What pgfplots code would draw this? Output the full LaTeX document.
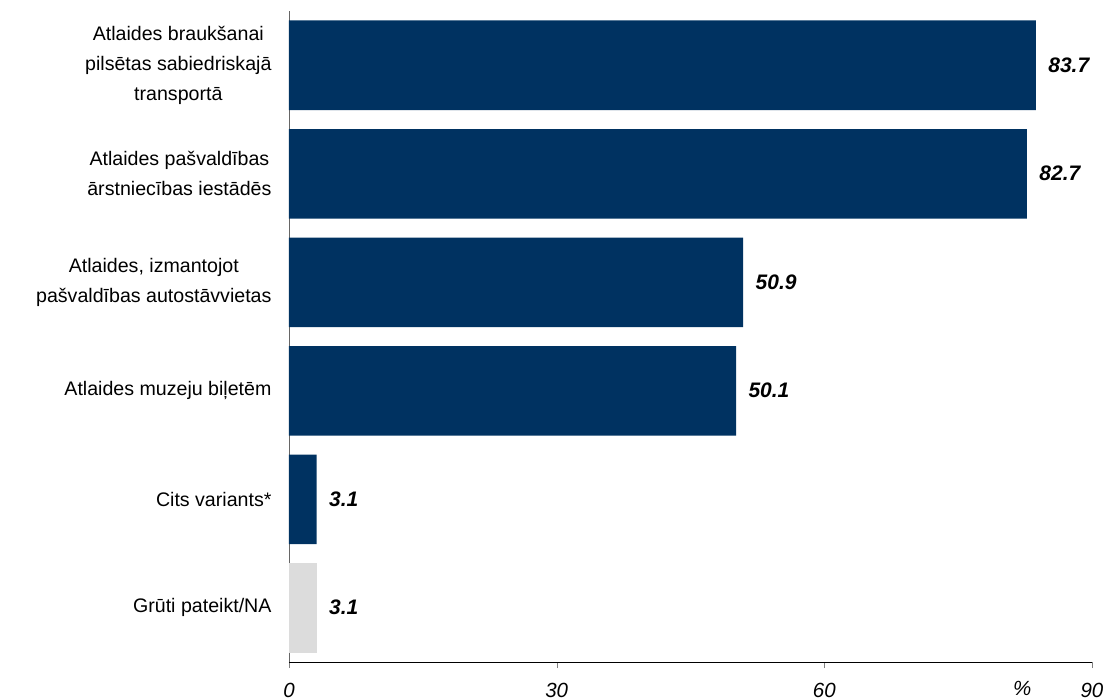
\documentclass[border=0pt]{standalone}
\usepackage{pgfplots}
\pgfplotsset{compat=1.18}
\usepackage{fontspec}
\setmainfont{Liberation Sans}
\definecolor{barblue}{HTML}{003261}
\definecolor{bargrey}{HTML}{DCDCDC}
\begin{document}
\begin{tikzpicture}
\begin{axis}[
    name=ax, anchor=south west,
    scale only axis, width=803pt, height=651pt,
    xbar, bar width=89.5pt,
    xmin=0, xmax=90, ymin=-0.5, ymax=5.5,
    y dir=reverse,
    axis x line*=bottom, axis y line*=left,
    x axis line style={black}, y axis line style={gray!80!black},
    xtick={0,30,60,90}, tick align=outside, major tick length=6pt,
    ytick={0,...,5}, ytick style={draw=none},
    yticklabels={{Atlaides braukšanai\\pilsētas sabiedriskajā\\transportā},
                 {Atlaides pašvaldības\\ārstniecības iestādēs},
                 {Atlaides, izmantojot\\pašvaldības autostāvvietas},
                 {Atlaides muzeju biļetēm},
                 {Cits variants*},
                 {Grūti pateikt/NA}},
    yticklabel style={align=center, font=\fontsize{19.6}{30}\selectfont, xshift=-8pt},
    xticklabel style={font=\fontsize{20.5}{24}\selectfont\itshape, yshift=-12pt},
    /pgf/number format/assume math mode=true,
    xlabel={\%},
    every axis x label/.style={at={(rel axis cs:0.913,0)}, anchor=north, yshift=-16pt,
        font=\fontsize{20.5}{24}\selectfont\itshape},
    nodes near coords,
    nodes near coords style={anchor=west, xshift=9pt,
        font=\fontsize{21}{24}\selectfont\bfseries\itshape,
        /pgf/number format/.cd, fixed, fixed zerofill, precision=1, assume math mode=true},
  ]
\addplot[fill=barblue, draw=none, bar shift=0pt] coordinates {
  (83.7,0)
  (82.7,1)
  (50.9,2)
  (50.1,3)
  (3.1,4)
};
\addplot[fill=bargrey, draw=none, bar shift=0pt] coordinates {
  (3.1,5)
};
\end{axis}
\pgfresetboundingbox
\path (ax.south west) ++(-289pt,-38pt) rectangle ++(1107pt,700pt);
\end{tikzpicture}
\end{document}
